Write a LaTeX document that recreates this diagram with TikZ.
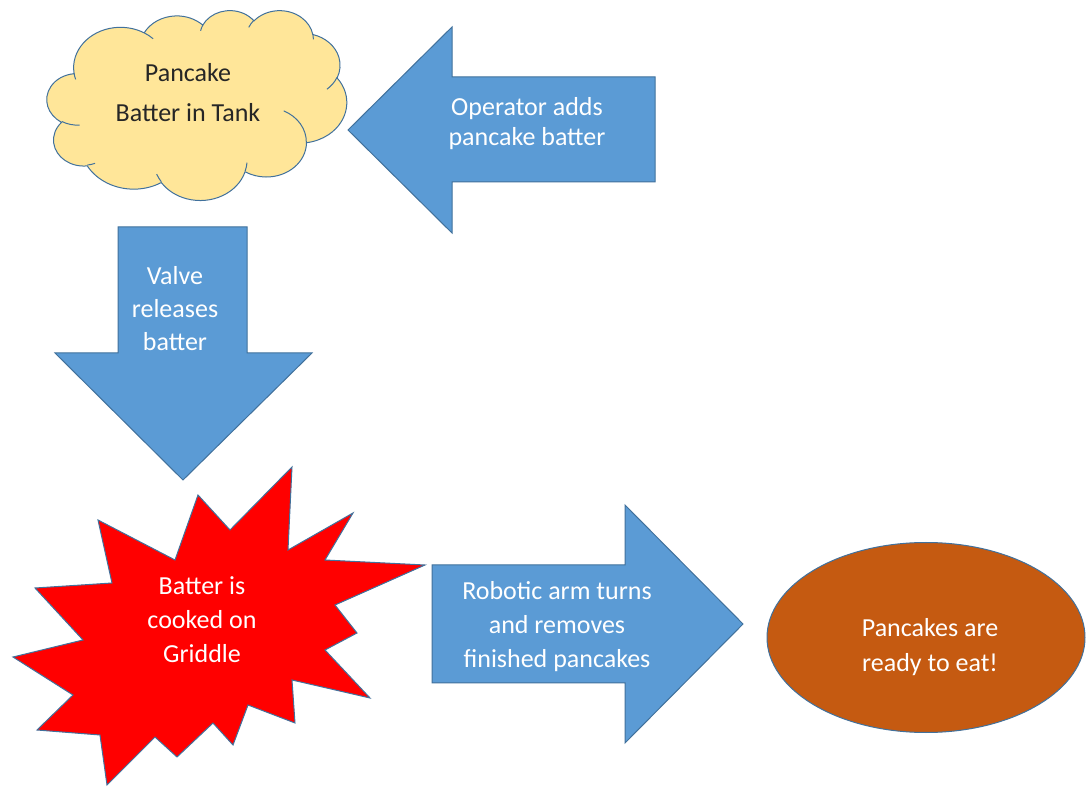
\documentclass[tikz,border=0pt]{standalone}
\usepackage{fontspec}
\setmainfont{Carlito}
\usetikzlibrary{shapes.geometric}
\definecolor{arrowblue}{HTML}{5B9BD5}
\definecolor{edgeblue}{HTML}{41719C}
\definecolor{cloudfill}{HTML}{FFE699}
\definecolor{burstred}{HTML}{FF0000}
\definecolor{ovalfill}{HTML}{C55A11}
\newcommand{\mltext}[1]{\begin{tabular}[t]{@{}c@{}}#1\end{tabular}}
\tikzset{
  blockarrow/.style={fill=arrowblue, draw=edgeblue, line width=0.75pt, line join=miter},
  burst/.style={fill=burstred, draw=edgeblue, line width=0.75pt, line join=miter},
  cloudbody/.style={fill=cloudfill, draw=edgeblue, line width=0.75pt},
  cloudline/.style={draw=edgeblue, line width=0.75pt},
  oval/.style={ellipse, fill=ovalfill, draw=edgeblue, line width=0.75pt, inner sep=0pt,
    minimum width=238.5pt, minimum height=142.5pt},
  lbl/.style={anchor=base, inner sep=0pt, text=white, font=\fontsize{19.5}{#1}\selectfont},
  lbl/.default=25.5
}
\begin{document}
\begin{tikzpicture}[x=0.75pt,y=-0.75pt]
\useasboundingbox (0,0) rectangle (1086,787);
\fill[white] (0,0) rectangle (1086,787);

% cloud: Pancake Batter in Tank
\begin{scope}[shift={(47,10)},x=0.0052083pt,y=-0.0032986pt]
\path[cloudbody] (3900,14370)
 arc[start angle=-187.747, delta angle=128.117, x radius=6753, y radius=9190]
 arc[start angle=-152.01, delta angle=106.55, x radius=5333, y radius=7267]
 arc[start angle=-153.49, delta angle=116.16, x radius=4365, y radius=5945]
 arc[start angle=-139.71, delta angle=129.50, x radius=4857, y radius=6595]
 arc[start angle=-74.77, delta angle=97.98, x radius=5333, y radius=7273]
 arc[start angle=-37.50, delta angle=119.36, x radius=6775, y radius=9220]
 arc[start angle=0.46, delta angle=121.52, x radius=5785, y radius=7867]
 arc[start angle=16.84, delta angle=129.38, x radius=6752, y radius=9215]
 arc[start angle=58.99, delta angle=91.19, x radius=7720, y radius=10543]
 arc[start angle=-276.69, delta angle=139.78, x radius=4360, y radius=5918]
 arc[start angle=-239.66, delta angle=143.77, x radius=4345, y radius=5945]
 -- cycle;
\path[cloudline] (4693,26177) arc[start angle=85.55, delta angle=34.79, x radius=4345, y radius=5945]
 (6928,34899) arc[start angle=68.24, delta angle=15.07, x radius=4360, y radius=5918]
 (16478,39090) arc[start angle=146.22, delta angle=12.25, x radius=6752, y radius=9215]
 (28827,34751) arc[start angle=4.74, delta angle=12.10, x radius=6752, y radius=9215]
 (34129,22954) arc[start angle=-64.03, delta angle=64.49, x radius=5785, y radius=7867]
 (41798,15354) arc[start angle=23.21, delta angle=26.42, x radius=5333, y radius=7273]
 (38324,5426) arc[start angle=-10.21, delta angle=11.03, x radius=4857, y radius=6595]
 (29078,3952) arc[start angle=-156.29, delta angle=16.58, x radius=4857, y radius=6595]
 (22141,4720) arc[start angle=-167.73, delta angle=14.24, x radius=4365, y radius=5945]
 (14000,5192) arc[start angle=-59.63, delta angle=13.89, x radius=6753, y radius=9190]
 (4127,15789) arc[start angle=163.19, delta angle=9.06, x radius=6753, y radius=9190];
\end{scope}
\node[lbl=30, text=black!85] (tankTxt) at (188,82) {\mltext{Pancake\\Batter in Tank}};

% left arrow: operator adds batter
\path[blockarrow] (348,130) -- (452,27) -- (452,77) -- (655,77) -- (655,182)
  -- (452,182) -- (452,233) -- cycle;
\node[lbl=22.5] (opTxt) at (527,116) {\mltext{Operator adds\\pancake batter}};

% down arrow: valve releases batter
\path[blockarrow] (118,227) -- (247,227) -- (247,353) -- (312,353) -- (183,480)
  -- (55,353) -- (118,353) -- cycle;
\node[lbl=24.4] (valveTxt) at (175,285) {\mltext{Valve\\releases\\batter}};

% starburst: griddle
\path[burst] (98,520) -- (175,560) -- (198,495) -- (230,530) -- (292,467) -- (288,550)
  -- (353,513) -- (325,560) -- (425,565) -- (335,605) -- (357,633) -- (325,650)
  -- (370,698) -- (292,680) -- (295,723) -- (248,705) -- (233,745) -- (213,723)
  -- (177,757) -- (155,737) -- (107,785) -- (100,735) -- (37,730) -- (73,695)
  -- (13,657) -- (83,640) -- (35,588) -- (112,583) -- cycle;
\node[lbl] (cookTxt) at (202,595) {\mltext{Batter is\\cooked on\\Griddle}};

% right arrow: robotic arm
\path[blockarrow] (432,565) -- (625,565) -- (625,505) -- (743,624) -- (625,743)
  -- (625,683) -- (432,683) -- cycle;
\node[lbl] (robotTxt) at (557,600) {\mltext{Robotic arm turns\\and removes\\finished pancakes}};

% ellipse: ready to eat
\node[oval] (ready) at (926,637.5) {};
\node[lbl=26.25] (eatTxt) at (930,637) {\mltext{Pancakes are\\ready to eat!}};
\end{tikzpicture}
\end{document}
